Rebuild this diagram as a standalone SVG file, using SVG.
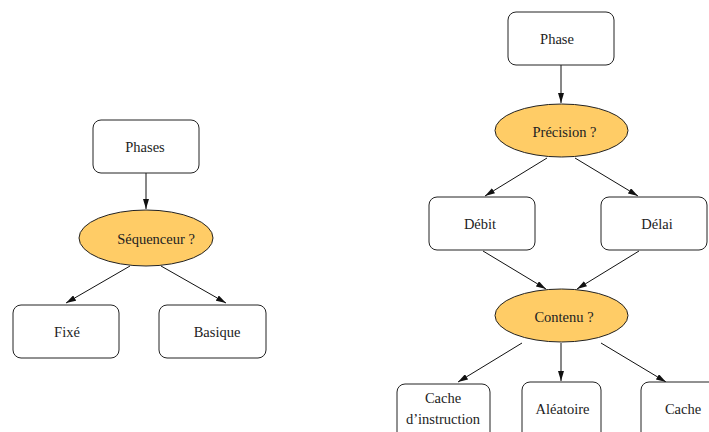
<svg xmlns="http://www.w3.org/2000/svg" width="709" height="432" viewBox="0 0 709 432">
<style>
.box{fill:#fff;stroke:#222;stroke-width:1}
.ell{fill:#FFCC66;stroke:#222;stroke-width:1}
.t{font-family:"Liberation Serif","Times New Roman",serif;font-size:14.5px;fill:#222;text-anchor:middle}
.e{stroke:#111;stroke-width:1;fill:none;marker-end:url(#a)}
</style>
<defs>
<marker id="a" viewBox="0 0 10 6" refX="10" refY="3" markerWidth="10" markerHeight="6" markerUnits="userSpaceOnUse" orient="auto">
<path d="M0,0 L10,3 L0,6 Z" fill="#111"/>
</marker>
</defs>
<rect width="709" height="432" fill="#fff"/>
<g id="connectors">
<line class="e" x1="146" y1="173" x2="146" y2="209"/>
<line class="e" x1="130" y1="266" x2="66" y2="303"/>
<line class="e" x1="161" y1="266" x2="226" y2="303"/>
<line class="e" x1="561" y1="65" x2="561" y2="103"/>
<line class="e" x1="547" y1="158" x2="485" y2="196"/>
<line class="e" x1="575" y1="158" x2="638" y2="196"/>
<line class="e" x1="483" y1="251" x2="546" y2="289"/>
<line class="e" x1="639" y1="251" x2="577" y2="289"/>
<line class="e" x1="522" y1="343" x2="458" y2="382"/>
<line class="e" x1="561" y1="343" x2="561" y2="381"/>
<line class="e" x1="601" y1="343" x2="666" y2="382"/>
</g>
<g id="phases"><rect class="box" x="93" y="120" width="106" height="53" rx="8"/><text class="t" x="145" y="152">Phases</text></g>
<g id="sequenceur"><ellipse class="ell" cx="146" cy="238" rx="67" ry="28"/><text class="t" x="156" y="244">Séquenceur ?</text></g>
<g id="fixe"><rect class="box" x="13" y="305" width="106" height="53" rx="8"/><text class="t" x="67" y="337">Fixé</text></g>
<g id="basique"><rect class="box" x="159" y="305" width="107" height="53" rx="8"/><text class="t" x="217" y="337">Basique</text></g>
<g id="phase"><rect class="box" x="508" y="12" width="106" height="53" rx="8"/><text class="t" x="557" y="44">Phase</text></g>
<g id="precision"><ellipse class="ell" cx="561.5" cy="130.5" rx="66.5" ry="26.5"/><text class="t" x="564.5" y="137">Précision ?</text></g>
<g id="debit"><rect class="box" x="429" y="197" width="106" height="53" rx="8"/><text class="t" x="480" y="229">Débit</text></g>
<g id="delai"><rect class="box" x="601" y="197" width="106" height="53" rx="8"/><text class="t" x="657" y="229">Délai</text></g>
<g id="contenu"><ellipse class="ell" cx="561.5" cy="315.5" rx="66.5" ry="26.5"/><text class="t" x="564" y="322">Contenu ?</text></g>
<g id="cache-instruction"><rect class="box" x="397" y="384" width="93" height="60" rx="8"/><text class="t" x="443" y="403">Cache</text><text class="t" x="443" y="424">d’instruction</text></g>
<g id="aleatoire"><rect class="box" x="522" y="382" width="79" height="60" rx="8"/><text class="t" x="562.5" y="414">Aléatoire</text></g>
<g id="cache"><rect class="box" x="641" y="382" width="90" height="60" rx="8"/><text class="t" x="683" y="414">Cache</text></g>
</svg>
